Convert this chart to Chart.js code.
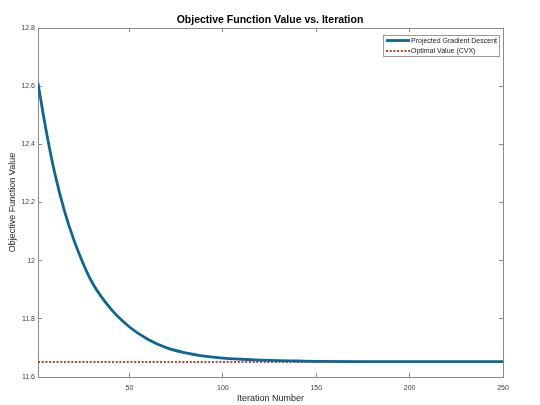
<!DOCTYPE html>
<html>
<head>
<meta charset="utf-8">
<script src="https://cdn.jsdelivr.net/npm/chart.js@4/dist/chart.umd.min.js"></script>
<style>
    html, body { margin: 0; padding: 0; background: #fff; }
    canvas { display: block; }
</style>
</head>
<body>
<canvas id="objChart" width="540" height="405"></canvas>
<script>
// Values
const iterations = [1, 5, 10, 15, 20, 25, 30, 40, 50, 60, 70, 80, 90, 100, 110, 120, 130, 140, 150, 175, 200, 225, 250];
const pgdValues = [12.61, 12.46, 12.30, 12.175, 12.075, 11.993, 11.925, 11.834, 11.772, 11.729, 11.700, 11.683, 11.672, 11.665, 11.661, 11.658, 11.656, 11.655, 11.654, 11.653, 11.653, 11.653, 11.653];
const optimalIters = [1, 250];
const optimalValues = [11.652, 11.652];

const xTicks = [50, 100, 150, 200, 250];
const yTicks = [11.6, 11.8, 12, 12.2, 12.4, 12.6, 12.8];

const FONT = '"Liberation Sans", Arial, sans-serif';
const AXIS_GRAY = '#8a8a8a';

const toPoints = (xs, ys) => xs.map((x, i) => ({ x: x, y: ys[i] }));

// Inward tick marks, no gridlines (MATLAB box style)
const boxGrid = {
    display: true,
    drawOnChartArea: false,
    drawTicks: true,
    tickLength: -4,
    color: AXIS_GRAY,
    lineWidth: 1
};
const boxBorder = { display: true, color: AXIS_GRAY, width: 1 };

// Simple boxed legend in the top right corner
const boxLegend = {
    id: 'boxLegend',
    afterDatasetsDraw(chart) {
        const ctx = chart.ctx;
        const ds = chart.data.datasets;
        const left = 383, top = 35, w = 116, h = 21;
        ctx.save();
        ctx.fillStyle = '#fff';
        ctx.fillRect(left, top, w, h);
        ctx.strokeStyle = '#9a9a9a';
        ctx.lineWidth = 1;
        ctx.strokeRect(left + 0.5, top + 0.5, w, h);
        ds.forEach((d, i) => {
            const y = top + 5.5 + i * 10.5;
            ctx.beginPath();
            ctx.strokeStyle = d.borderColor;
            ctx.lineWidth = d.borderWidth;
            ctx.setLineDash(d.borderDash || []);
            ctx.moveTo(386, y);
            ctx.lineTo(410, y);
            ctx.stroke();
            ctx.setLineDash([]);
            ctx.fillStyle = '#1a1a1a';
            ctx.font = '7px ' + FONT;
            ctx.textBaseline = 'middle';
            ctx.fillText(d.label, 411, y + 0.5);
        });
        ctx.restore();
    }
};

const ctx = document.getElementById('objChart').getContext('2d');

const chart = new Chart(ctx, {
    type: 'line',
    data: {
        datasets: [{
            label: 'Projected Gradient Descent',
            data: toPoints(iterations, pgdValues),
            borderColor: '#0b6796',
            borderWidth: 2.8,
            pointRadius: 0,
            cubicInterpolationMode: 'monotone',
            fill: false
        }, {
            label: 'Optimal Value (CVX)',
            data: toPoints(optimalIters, optimalValues),
            borderColor: '#b3452a',
            borderWidth: 2,
            borderDash: [2, 1.7],
            pointRadius: 0,
            fill: false
        }]
    },
    options: {
        responsive: false,
        animation: false,
        devicePixelRatio: 1,
        layout: { padding: 0 },
        plugins: {
            legend: { display: false },
            tooltip: { enabled: false },
            title: {
                display: true,
                text: 'Objective Function Value vs. Iteration',
                color: '#000',
                font: { family: FONT, size: 10.5, weight: 'bold' },
                padding: { top: 14.2, bottom: 1.2 }
            }
        },
        scales: {
            x: {
                type: 'linear',
                position: 'bottom',
                min: 1,
                max: 250,
                afterBuildTicks: (s) => { s.ticks = xTicks.map(v => ({ value: v })); },
                afterFit: (s) => { s.height = 28; },
                grid: boxGrid,
                border: boxBorder,
                ticks: {
                    color: '#404040',
                    padding: 11,
                    maxRotation: 0,
                    font: { family: FONT, size: 7 }
                },
                title: {
                    display: true,
                    text: 'Iteration Number',
                    color: '#262626',
                    font: { family: FONT, size: 9 },
                    padding: { top: 0, bottom: 1 }
                }
            },
            x2: {
                type: 'linear',
                position: 'top',
                min: 1,
                max: 250,
                afterBuildTicks: (s) => { s.ticks = xTicks.map(v => ({ value: v })); },
                afterFit: (s) => { s.height = 0; },
                grid: boxGrid,
                border: boxBorder,
                ticks: { display: false }
            },
            y: {
                type: 'linear',
                position: 'left',
                min: 11.6,
                max: 12.8,
                afterBuildTicks: (s) => { s.ticks = yTicks.map(v => ({ value: v })); },
                afterFit: (s) => { s.width = 38; },
                grid: boxGrid,
                border: boxBorder,
                ticks: {
                    color: '#404040',
                    padding: 7,
                    font: { family: FONT, size: 7 },
                    callback: (v) => String(Number(v.toFixed(1)))
                },
                title: {
                    display: true,
                    text: 'Objective Function Value',
                    color: '#262626',
                    font: { family: FONT, size: 9 },
                    padding: { top: 7.6, bottom: 0 }
                }
            },
            y2: {
                type: 'linear',
                position: 'right',
                min: 11.6,
                max: 12.8,
                afterBuildTicks: (s) => { s.ticks = yTicks.map(v => ({ value: v })); },
                afterFit: (s) => { s.width = 37; },
                grid: boxGrid,
                border: boxBorder,
                ticks: { display: false }
            }
        }
    },
    plugins: [boxLegend]
});
</script>
</body>
</html>
